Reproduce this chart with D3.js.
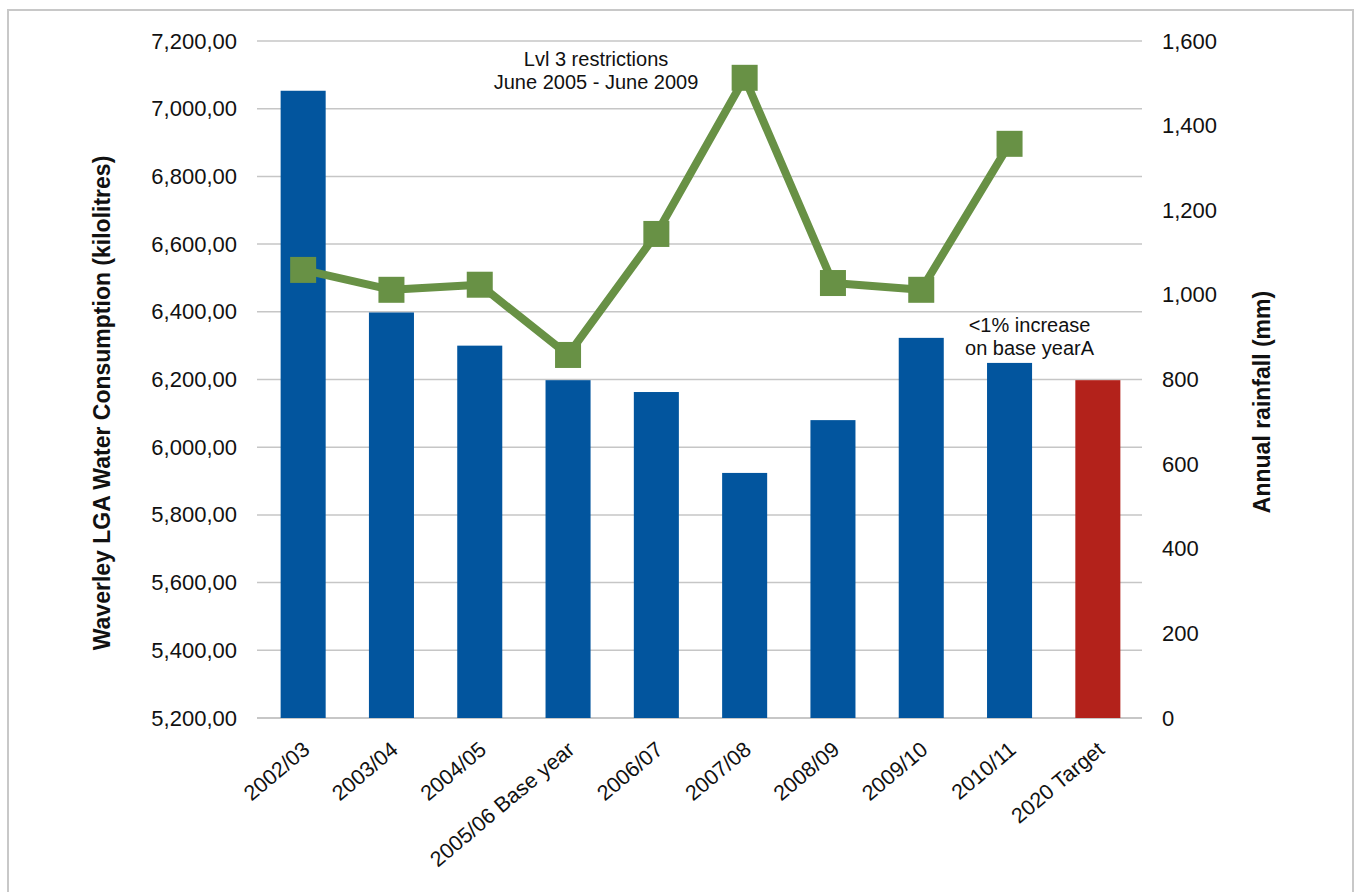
<!DOCTYPE html>
<html>
<head>
<meta charset="utf-8">
<script src="https://cdn.jsdelivr.net/npm/d3@7"></script>
<style>
  body { margin: 0; background: #fff; }
  svg { display: block; font-family: "Liberation Sans", Arial, sans-serif; }
  .domain { display: none; }
  .tick line { display: none; }
</style>
</head>
<body>
<svg id="chart" width="1357" height="892"></svg>
<script>
// data
const categories = ["2002/03", "2003/04", "2004/05", "2005/06 Base year", "2006/07",
  "2007/08", "2008/09", "2009/10", "2010/11", "2020 Target"]
const consumption = [7053, 6398, 6300, 6198, 6163, 5924, 6080, 6323, 6249, 6198]
const rainfall = [1059, 1012, 1024, 858, 1144, 1513, 1028, 1012, 1357, null]
const leftTicks = [5200, 5400, 5600, 5800, 6000, 6200, 6400, 6600, 6800, 7000, 7200]
const rightTicks = [0, 200, 400, 600, 800, 1000, 1200, 1400, 1600]
const notes = [
  { cat: "2005/06 Base year", lines: ["Lvl 3 restrictions", "June 2005 - June 2009"], dx: 28, y: 66 },
  { cat: "2010/11", lines: ["<1% increase", "on base yearA"], dx: 20, y: 332 }
]

const svg = d3.select("#chart")

// outer frame
svg.append("rect")
  .attr("x", 8).attr("y", 10).attr("width", 1345).attr("height", 900)
  .attr("fill", "none").attr("stroke", "#c8c8c8").attr("stroke-width", 2)

let x = d3.scaleBand().domain(categories).range([259, 1142])
  .paddingInner(0.49).paddingOuter(0.245)
let yL = d3.scaleLinear().domain([5200, 7200]).range([718, 41])
let yR = d3.scaleLinear().domain([0, 1600]).range([718, 41])
let cx = d => x(d) + x.bandwidth() / 2

// gridlines
svg.append("g").selectAll("line")
  .data(leftTicks)
  .enter()
  .append("line")
  .attr("x1", 257).attr("x2", 1142)
  .attr("y1", d => yL(d)).attr("y2", d => yL(d))
  .attr("stroke", d => d == 5200 ? "#b4b4b4" : "#c6c6c6")
  .attr("stroke-width", 1.5)

// left axis
let axL = svg.append("g")
  .attr("transform", "translate(246,0)")
  .call(d3.axisLeft(yL).tickValues(leftTicks).tickSize(0)
    .tickFormat(d => d3.format(",")(d) + ",00"))
axL.selectAll("text").attr("font-size", 22).attr("fill", "#111").attr("x", -9)

// right axis
let axR = svg.append("g")
  .attr("transform", "translate(1153,0)")
  .call(d3.axisRight(yR).tickValues(rightTicks).tickSize(0).tickFormat(d3.format(",")))
axR.selectAll("text").attr("font-size", 22).attr("fill", "#111").attr("x", 9)

// bars
svg.append("g").selectAll("rect")
  .data(categories)
  .enter()
  .append("rect")
  .attr("x", d => x(d))
  .attr("width", x.bandwidth())
  .attr("y", (d, i) => yL(consumption[i]))
  .attr("height", (d, i) => yL(5200) - yL(consumption[i]))
  .attr("fill", d => d == "2020 Target" ? "#b3221b" : "#02559e")

// x labels
svg.append("g").selectAll("text")
  .data(categories)
  .enter()
  .append("text")
  .attr("transform", d => "translate(" + (cx(d) - 2) + ",740) rotate(-40)")
  .attr("text-anchor", "end")
  .attr("dy", "0.72em")
  .attr("font-size", 21.5)
  .attr("fill", "#111")
  .text(d => d)

// rainfall line
let pts = categories.map((c, i) => ({ c: c, v: rainfall[i] })).filter(p => p.v != null)
let line = d3.line()
  .x(p => cx(p.c))
  .y(p => yR(p.v))
svg.append("path")
  .datum(pts)
  .attr("d", line)
  .attr("fill", "none")
  .attr("stroke", "#689145")
  .attr("stroke-width", 8)
  .attr("stroke-linejoin", "round")

svg.append("g").selectAll("rect")
  .data(pts)
  .enter()
  .append("rect")
  .attr("x", p => cx(p.c) - 13)
  .attr("y", p => yR(p.v) - 13)
  .attr("width", 26).attr("height", 26)
  .attr("fill", "#689145")

// annotations
notes.forEach(n => {
  let t = svg.append("text")
    .attr("text-anchor", "middle")
    .attr("font-size", 20)
    .attr("fill", "#111")
  n.lines.forEach((l, i) => {
    t.append("tspan")
      .attr("x", cx(n.cat) + n.dx)
      .attr("y", n.y + i * 23)
      .text(l)
  })
})

// axis titles
svg.append("text")
  .attr("transform", "translate(110,403) rotate(-90)")
  .attr("text-anchor", "middle")
  .attr("font-size", 23).attr("font-weight", "bold").attr("fill", "#111")
  .text("Waverley LGA Water Consumption (kilolitres)")

svg.append("text")
  .attr("transform", "translate(1270,402) rotate(-90)")
  .attr("text-anchor", "middle")
  .attr("font-size", 23).attr("font-weight", "bold").attr("fill", "#111")
  .text("Annual rainfall (mm)")
</script>
</body>
</html>
